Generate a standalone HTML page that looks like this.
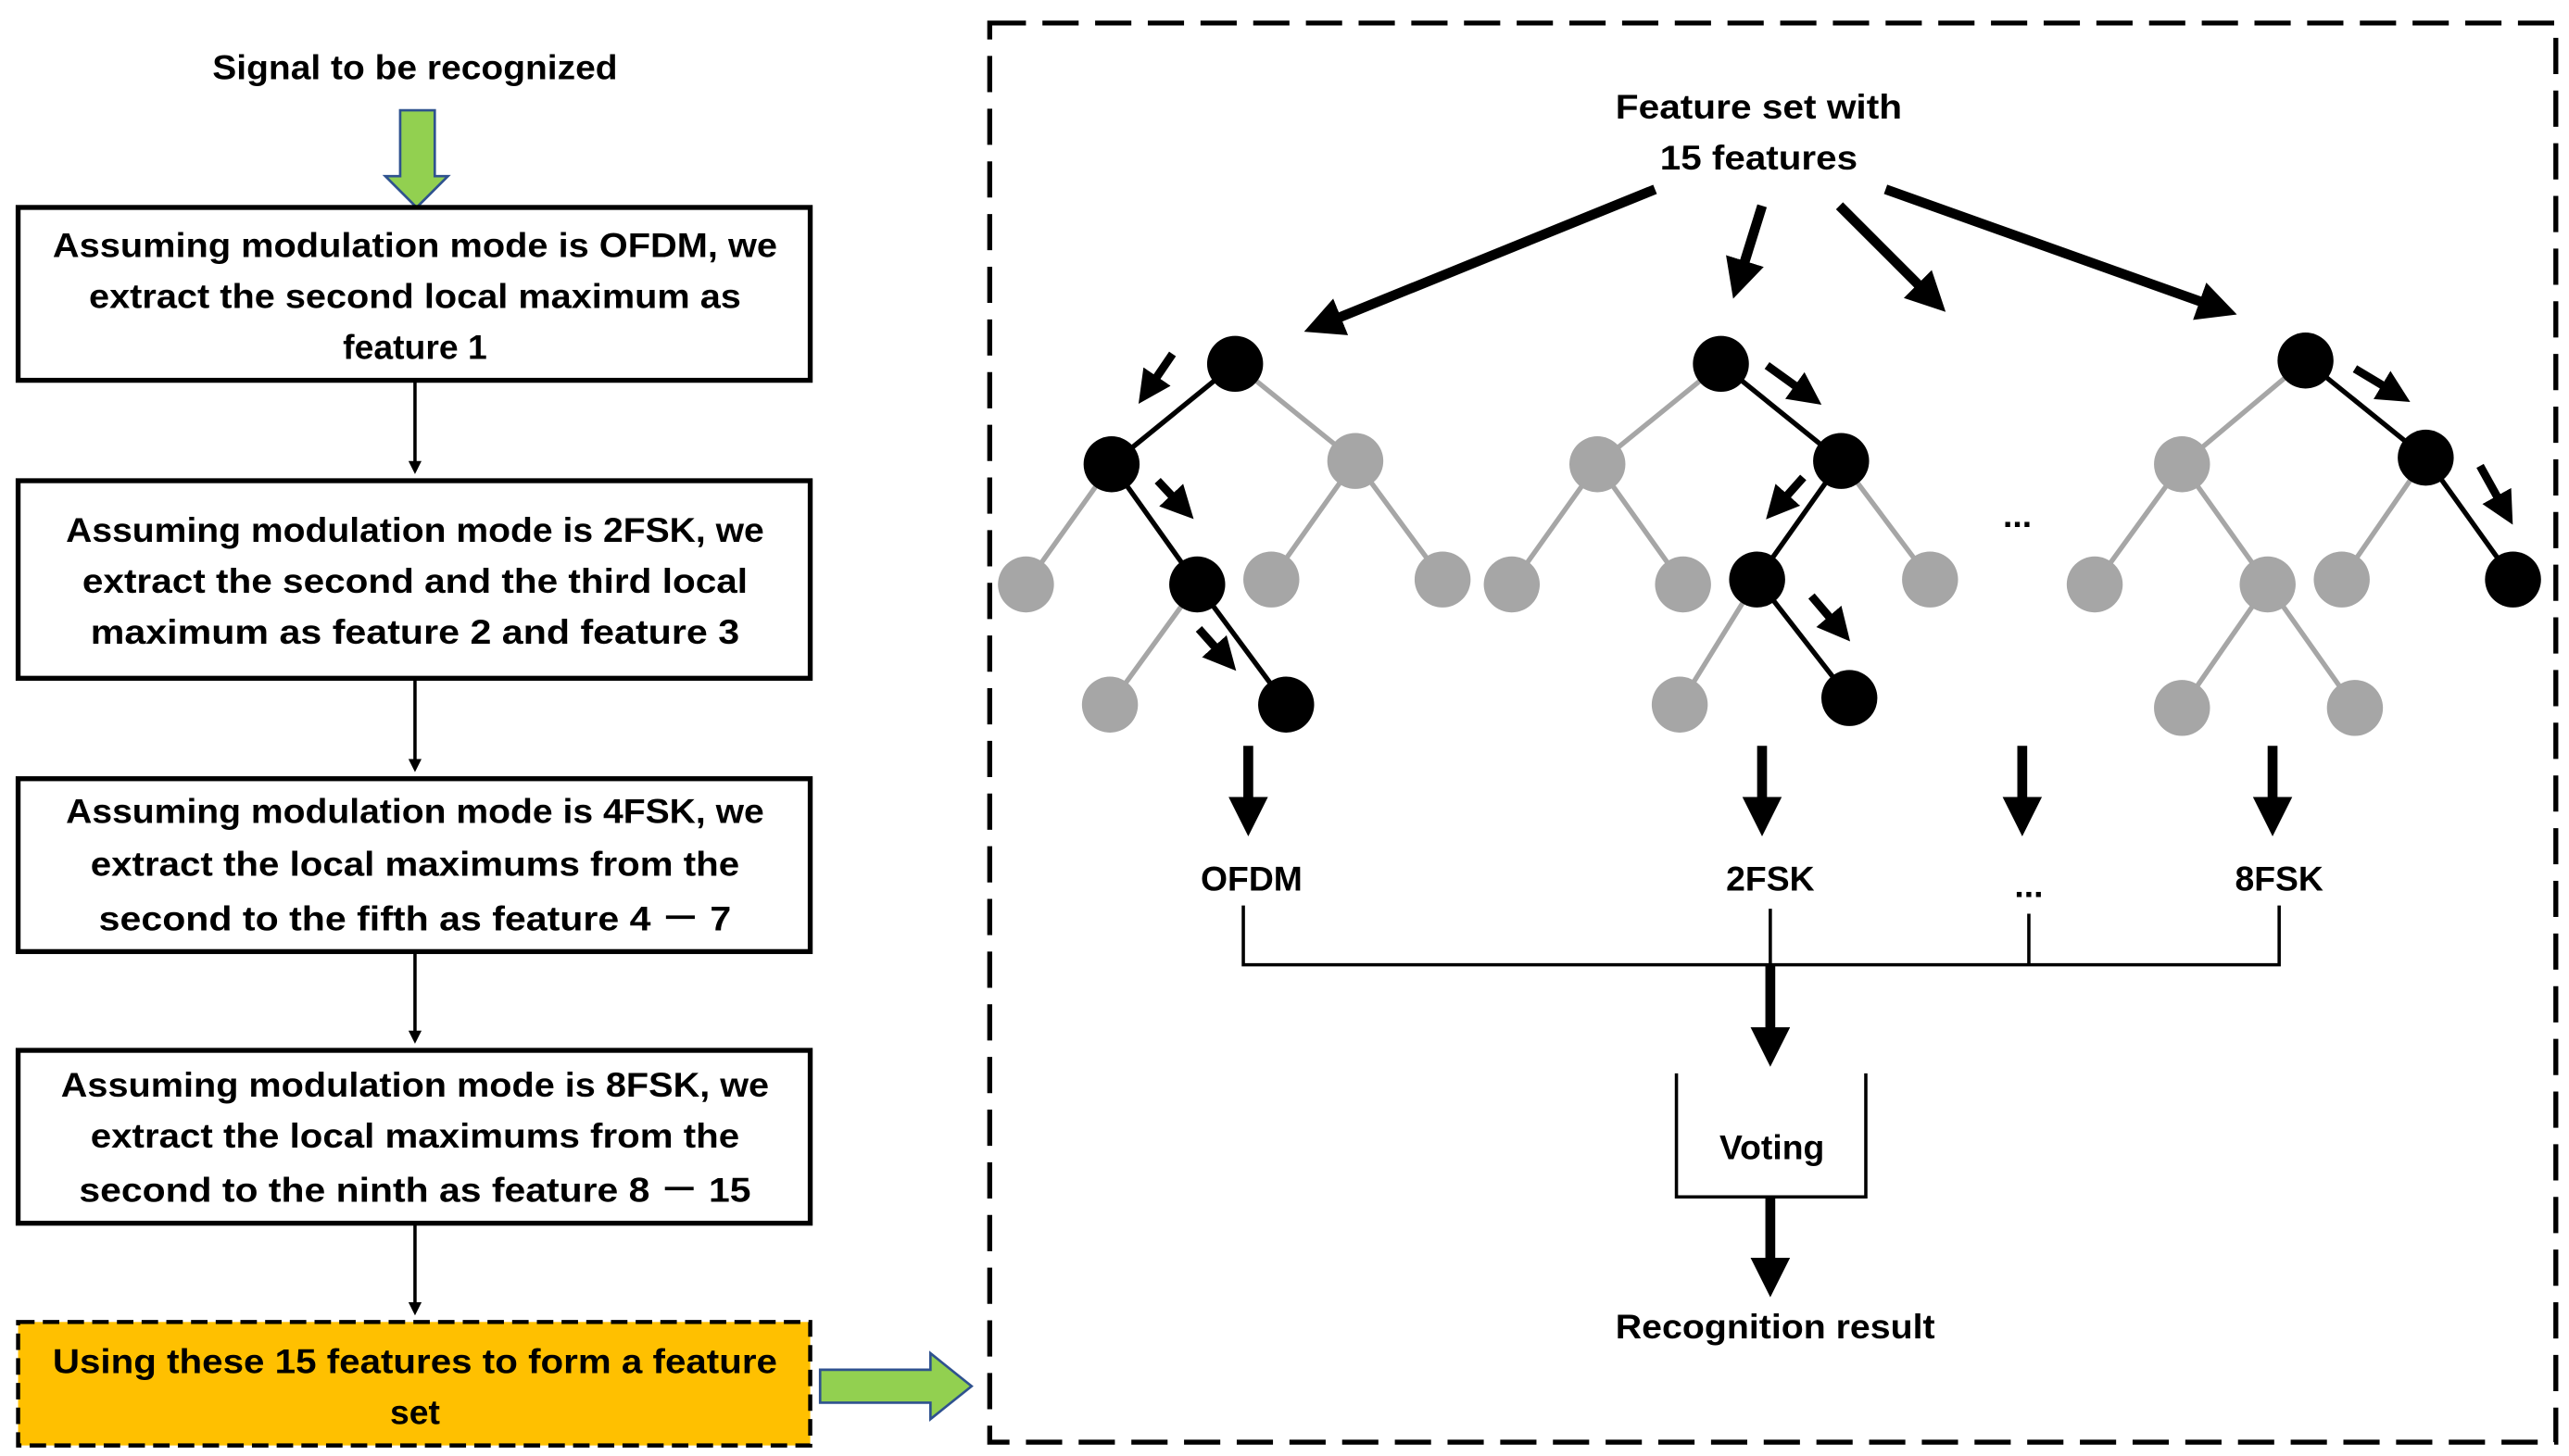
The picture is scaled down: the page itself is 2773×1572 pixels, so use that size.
<!DOCTYPE html>
<html><head><meta charset="utf-8"><style>
html,body{margin:0;padding:0;background:#fff;}
svg{display:block;}
text{font-family:"Liberation Sans",sans-serif;font-weight:bold;fill:#000;}
</style></head><body>
<svg width="2773" height="1572" viewBox="0 0 1560 884.4" preserveAspectRatio="none" xmlns="http://www.w3.org/2000/svg">
<defs>
<marker id="ah" markerWidth="4" markerHeight="4" refX="2" refY="2" orient="auto" markerUnits="strokeWidth"><path d="M0,0 L4,2 L0,4 z" fill="#000"/></marker>
</defs>
<rect width="1560" height="884.4" fill="#fff"/>
<!-- left flow -->
<text x="252" y="48" font-size="21" text-anchor="middle" textLength="246" lengthAdjust="spacingAndGlyphs">Signal to be recognized</text>
<path d="M243,67 L264,67 L264,107 L272,107 L253,126 L234,107 L243,107 Z" fill="#92D050" stroke="#2F528F" stroke-width="1.5"/>
<g fill="none" stroke="#000" stroke-width="3">
<rect x="11" y="126" width="481" height="105"/>
<rect x="11" y="292" width="481" height="120"/>
<rect x="11" y="473" width="481" height="105"/>
<rect x="11" y="638" width="481" height="105"/>
</g>
<g stroke="#000" stroke-width="2" marker-end="url(#ah)">
<line x1="252" y1="231" x2="252" y2="284"/>
<line x1="252" y1="412" x2="252" y2="465"/>
<line x1="252" y1="578" x2="252" y2="630"/>
<line x1="252" y1="743" x2="252" y2="795"/>
</g>
<rect x="11" y="803" width="481" height="75" fill="#FFC000" stroke="#000" stroke-width="2.5" stroke-dasharray="10,5"/>
<g font-size="21" text-anchor="middle">
<text x="252" y="156" textLength="440" lengthAdjust="spacingAndGlyphs">Assuming modulation mode is OFDM, we</text>
<text x="252" y="187" textLength="396" lengthAdjust="spacingAndGlyphs">extract the second local maximum as</text>
<text x="252" y="218">feature 1</text>
<text x="252" y="329" textLength="424" lengthAdjust="spacingAndGlyphs">Assuming modulation mode is 2FSK, we</text>
<text x="252" y="360" textLength="404" lengthAdjust="spacingAndGlyphs">extract the second and the third  local</text>
<text x="252" y="391" textLength="394" lengthAdjust="spacingAndGlyphs">maximum  as feature 2 and feature 3</text>
<text x="252" y="500" textLength="424" lengthAdjust="spacingAndGlyphs">Assuming modulation mode is 4FSK, we</text>
<text x="252" y="532" textLength="394" lengthAdjust="spacingAndGlyphs">extract the local maximums from the</text>
<text x="252" y="565" textLength="384" lengthAdjust="spacingAndGlyphs">second to the fifth  as feature 4 － 7</text>
<text x="252" y="666" textLength="430" lengthAdjust="spacingAndGlyphs">Assuming modulation mode is 8FSK,  we</text>
<text x="252" y="697" textLength="394" lengthAdjust="spacingAndGlyphs">extract the local maximums from the</text>
<text x="252" y="730" textLength="408" lengthAdjust="spacingAndGlyphs">second  to the ninth as feature 8 － 15</text>
<text x="252" y="834" textLength="440" lengthAdjust="spacingAndGlyphs">Using these 15 features to form a feature</text>
<text x="252" y="865">set</text>
</g>
<path d="M498,832 L565,832 L565,822 L590,842 L565,862 L565,852 L498,852 Z" fill="#92D050" stroke="#2F528F" stroke-width="1.5"/>
<!-- right dashed box -->
<rect x="601" y="14" width="951" height="862" fill="none" stroke="#000" stroke-width="3" stroke-dasharray="22,10"/>
<g font-size="21" text-anchor="middle">
<text x="1068" y="72" textLength="174" lengthAdjust="spacingAndGlyphs">Feature set with</text>
<text x="1068" y="103" textLength="120" lengthAdjust="spacingAndGlyphs">15 features</text>
</g>
<g stroke="#000" stroke-width="6" marker-end="url(#ah)">
<line x1="1005" y1="115" x2="803" y2="197"/>
<line x1="1070" y1="125" x2="1056" y2="170"/>
<line x1="1117" y1="125" x2="1173" y2="181"/>
<line x1="1145" y1="115" x2="1347" y2="187"/>
</g>
<!-- trees edges -->
<g stroke-width="3">
<line x1="750" y1="221" x2="823" y2="280" stroke="#A6A6A6"/>
<line x1="675" y1="282" x2="623" y2="355" stroke="#A6A6A6"/>
<line x1="823" y1="280" x2="772" y2="352" stroke="#A6A6A6"/>
<line x1="823" y1="280" x2="876" y2="352" stroke="#A6A6A6"/>
<line x1="727" y1="355" x2="674" y2="428" stroke="#A6A6A6"/>
<line x1="750" y1="221" x2="675" y2="282" stroke="#000"/>
<line x1="675" y1="282" x2="727" y2="355" stroke="#000"/>
<line x1="727" y1="355" x2="781" y2="428" stroke="#000"/>
<line x1="1045" y1="221" x2="970" y2="282" stroke="#A6A6A6"/>
<line x1="970" y1="282" x2="918" y2="355" stroke="#A6A6A6"/>
<line x1="970" y1="282" x2="1022" y2="355" stroke="#A6A6A6"/>
<line x1="1118" y1="280" x2="1172" y2="352" stroke="#A6A6A6"/>
<line x1="1067" y1="352" x2="1020" y2="428" stroke="#A6A6A6"/>
<line x1="1045" y1="221" x2="1118" y2="280" stroke="#000"/>
<line x1="1118" y1="280" x2="1067" y2="352" stroke="#000"/>
<line x1="1067" y1="352" x2="1123" y2="424" stroke="#000"/>
<line x1="1400" y1="219" x2="1325" y2="282" stroke="#A6A6A6"/>
<line x1="1325" y1="282" x2="1272" y2="355" stroke="#A6A6A6"/>
<line x1="1325" y1="282" x2="1377" y2="355" stroke="#A6A6A6"/>
<line x1="1473" y1="278" x2="1422" y2="352" stroke="#A6A6A6"/>
<line x1="1377" y1="355" x2="1325" y2="430" stroke="#A6A6A6"/>
<line x1="1377" y1="355" x2="1430" y2="430" stroke="#A6A6A6"/>
<line x1="1400" y1="219" x2="1473" y2="278" stroke="#000"/>
<line x1="1473" y1="278" x2="1526" y2="352" stroke="#000"/>
</g>
<g fill="#A6A6A6">
<circle cx="823" cy="280" r="17"/><circle cx="623" cy="355" r="17"/><circle cx="772" cy="352" r="17"/><circle cx="876" cy="352" r="17"/><circle cx="674" cy="428" r="17"/>
<circle cx="970" cy="282" r="17"/><circle cx="918" cy="355" r="17"/><circle cx="1022" cy="355" r="17"/><circle cx="1172" cy="352" r="17"/><circle cx="1020" cy="428" r="17"/>
<circle cx="1325" cy="282" r="17"/><circle cx="1272" cy="355" r="17"/><circle cx="1377" cy="355" r="17"/><circle cx="1422" cy="352" r="17"/><circle cx="1325" cy="430" r="17"/><circle cx="1430" cy="430" r="17"/>
</g>
<g fill="#000">
<circle cx="750" cy="221" r="17"/><circle cx="675" cy="282" r="17"/><circle cx="727" cy="355" r="17"/><circle cx="781" cy="428" r="17"/>
<circle cx="1045" cy="221" r="17"/><circle cx="1118" cy="280" r="17"/><circle cx="1067" cy="352" r="17"/><circle cx="1123" cy="424" r="17"/>
<circle cx="1400" cy="219" r="17"/><circle cx="1473" cy="278" r="17"/><circle cx="1526" cy="352" r="17"/>
</g>
<g stroke="#000" stroke-width="5" marker-end="url(#ah)">
<line x1="712" y1="215" x2="697" y2="237"/>
<line x1="703" y1="292" x2="718" y2="308"/>
<line x1="728" y1="382" x2="744" y2="400"/>
<line x1="1073" y1="222" x2="1098" y2="240"/>
<line x1="1095" y1="290" x2="1079" y2="308"/>
<line x1="1100" y1="362" x2="1117" y2="382"/>
<line x1="1430" y1="224" x2="1455" y2="239"/>
<line x1="1506" y1="283" x2="1521" y2="310"/>
</g>
<text x="1225" y="320" font-size="21" text-anchor="middle">...</text>
<g stroke="#000" stroke-width="6" marker-end="url(#ah)">
<line x1="758" y1="453" x2="758" y2="496"/>
<line x1="1070" y1="453" x2="1070" y2="496"/>
<line x1="1228" y1="453" x2="1228" y2="496"/>
<line x1="1380" y1="453" x2="1380" y2="496"/>
</g>
<g font-size="21" text-anchor="middle">
<text x="760" y="541">OFDM</text>
<text x="1075" y="541">2FSK</text>
<text x="1232" y="545">...</text>
<text x="1384" y="541">8FSK</text>
</g>
<g fill="none" stroke="#000" stroke-width="2">
<path d="M755,550 L755,586 L1384,586 L1384,550"/>
<line x1="1075" y1="552" x2="1075" y2="586"/>
<line x1="1232" y1="555" x2="1232" y2="586"/>
<path d="M1018,652 L1018,727 L1133,727 L1133,652"/>
</g>
<g stroke="#000" stroke-width="6" marker-end="url(#ah)">
<line x1="1075" y1="586" x2="1075" y2="636"/>
<line x1="1075" y1="727" x2="1075" y2="776"/>
</g>
<text x="1076" y="704" font-size="21" text-anchor="middle">Voting</text>
<text x="1078" y="813" font-size="21" text-anchor="middle" textLength="194" lengthAdjust="spacingAndGlyphs">Recognition result</text>
</svg>
</body></html>
